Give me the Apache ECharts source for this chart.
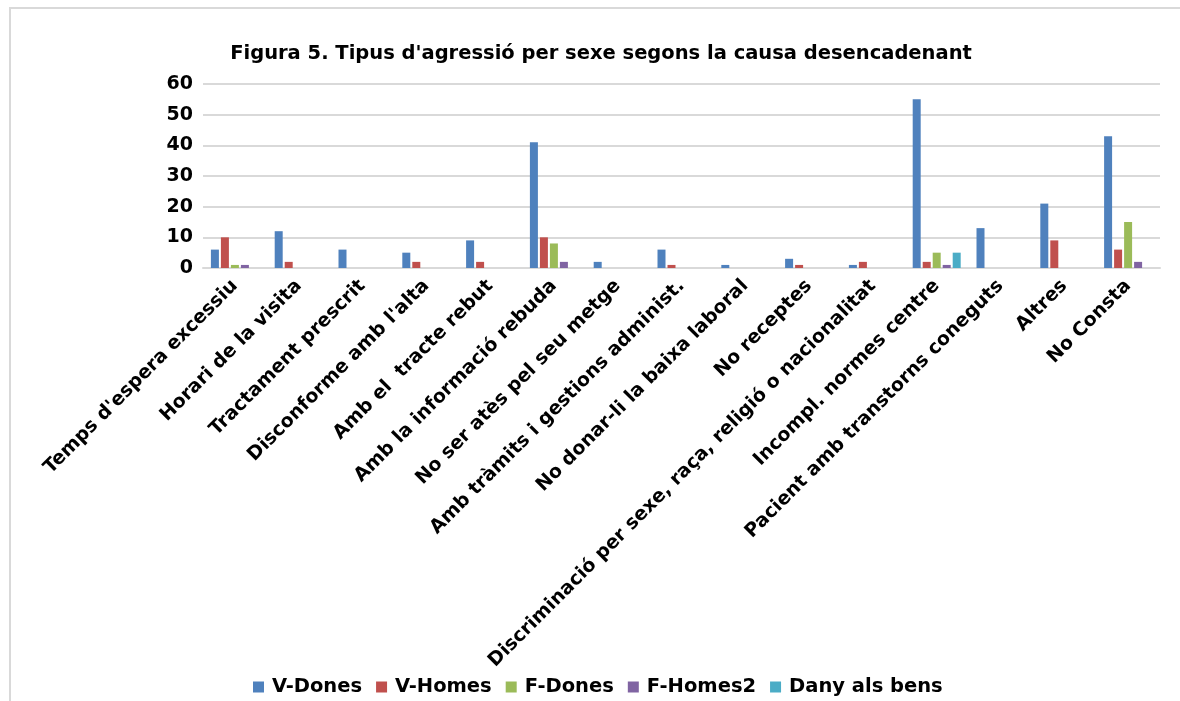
<!DOCTYPE html>
<html>
<head>
<meta charset="utf-8">
<script src="https://cdn.jsdelivr.net/npm/echarts@6/dist/echarts.min.js"></script>
<style>
  html, body { margin: 0; padding: 0; background: #fff; overflow: hidden; width: 1180px; height: 701px; }
  .frame {
    position: absolute; left: 9px; top: 7px; width: 1171px; height: 694px;
    border-left: 2px solid #d9d9d9; border-top: 2px solid #d9d9d9;
    box-sizing: border-box;
  }
  #chart { position: absolute; left: 0; top: 0; width: 1180px; height: 701px; }
</style>
</head>
<body>
<div class="frame"></div>
<div id="chart"></div>
<script>
// categories (causa desencadenant)
var categories = [
  "Temps d'espera excessiu",
  'Horari de la visita',
  'Tractament prescrit',
  "Disconforme amb l'alta",
  'Amb el  tracte rebut',
  'Amb la informació rebuda',
  'No ser atès pel seu metge',
  'Amb tràmits i gestions administ.',
  'No donar-li la baixa laboral',
  'No receptes',
  'Discriminació per sexe, raça, religió o nacionalitat',
  'Incompl. normes centre',
  'Pacient amb transtorns coneguts',
  'Altres',
  'No Consta'
];
var vDones  = [6, 12, 6, 5, 9, 41, 2, 6, 1, 3, 1, 55, 13, 21, 43];
var vHomes  = [10, 2, 0, 2, 2, 10, 0, 1, 0, 1, 2, 2, 0, 9, 6];
var fDones  = [1, 0, 0, 0, 0, 8, 0, 0, 0, 0, 0, 5, 0, 0, 15];
var fHomes2 = [1, 0, 0, 0, 0, 2, 0, 0, 0, 0, 0, 1, 0, 0, 2];
var danyBens = [0, 0, 0, 0, 0, 0, 0, 0, 0, 0, 0, 5, 0, 0, 0];
var seriesNames = ['V-Dones', 'V-Homes', 'F-Dones', 'F-Homes2', 'Dany als bens'];
var colors = ['#4f81bd', '#c0504d', '#9bbb59', '#8064a2', '#4bacc6'];

var font = 'DejaVu Sans';
var chart = echarts.init(document.getElementById('chart'));

function bar(name, data, color) {
  return {
    name: name,
    type: 'bar',
    data: data,
    barWidth: 8,
    barGap: '25%',
    itemStyle: { color: color }
  };
}

var option = {
  animation: false,
  color: colors,
  title: {
    text: "Figura 5. Tipus d'agressió per sexe segons la causa desencadenant",
    left: 596,
    textAlign: 'center',
    top: 39,
    textStyle: { fontFamily: font, fontWeight: 'bold', fontSize: 19.5, color: '#000' }
  },
  legend: {
    top: 672,
    left: 248,
    itemWidth: 11,
    itemHeight: 11,
    itemGap: 14,
    icon: 'rect',
    data: seriesNames,
    textStyle: { fontFamily: font, fontWeight: 'bold', fontSize: 19.5, color: '#000', padding: [0, 0, 0, 3] }
  },
  grid: { left: 203, right: 20, top: 84, bottom: 433 },
  xAxis: {
    type: 'category',
    data: categories,
    axisTick: { show: false },
    axisLine: { lineStyle: { color: '#d9d9d9', width: 2 } },
    axisLabel: {
      interval: 0,
      rotate: 45,
      margin: 15,
      fontFamily: font,
      fontWeight: 'bold',
      fontSize: 19,
      color: '#000'
    }
  },
  yAxis: {
    type: 'value',
    min: 0,
    max: 60,
    interval: 10,
    axisLine: { show: false },
    axisTick: { show: false },
    splitLine: { lineStyle: { color: '#d9d9d9', width: 2 } },
    axisLabel: { fontFamily: font, fontWeight: 'bold', fontSize: 19, color: '#000', margin: 10 }
  },
  series: [
    bar(seriesNames[0], vDones, colors[0]),
    bar(seriesNames[1], vHomes, colors[1]),
    bar(seriesNames[2], fDones, colors[2]),
    bar(seriesNames[3], fHomes2, colors[3]),
    bar(seriesNames[4], danyBens, colors[4])
  ]
};
chart.setOption(option);
</script>
</body>
</html>
